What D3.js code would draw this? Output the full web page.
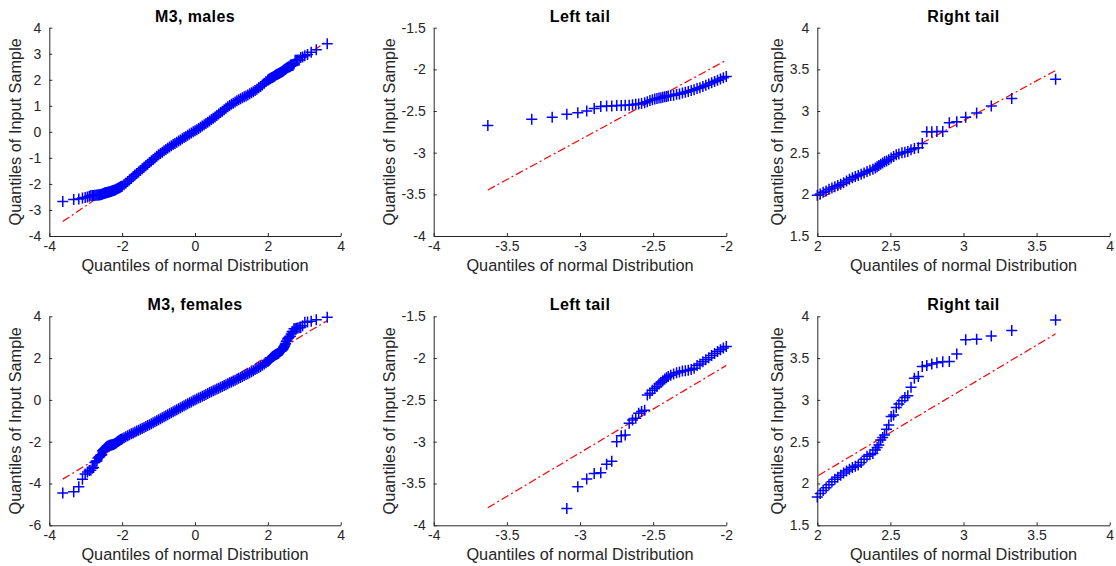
<!DOCTYPE html>
<html>
<head>
<meta charset="utf-8">
<script src="https://cdn.jsdelivr.net/npm/d3@7"></script>
<style>
  html, body { margin: 0; padding: 0; background: #fff; }
  svg { display: block; }
  text { font-family: "Liberation Sans", Arial, Helvetica, sans-serif; }
</style>
</head>
<body>
<svg id="chart" width="1116" height="566"></svg>
<script>
// Theoretical normal quantiles (shared by both samples), ascending.
const normalQuantiles = [
  -3.63,-3.33,-3.19,-3.09,-3.015,-2.954,-2.903,-2.858,-2.818,-2.783,-2.749,-2.718,-2.691,-2.664,-2.641,
  -2.619,-2.599,-2.579,-2.558,-2.540,-2.522,-2.505,-2.489,-2.474,-2.460,-2.447,-2.434,-2.421,-2.409,-2.397,
  -2.38,-2.36,-2.34,-2.32,-2.30,-2.28,-2.26,-2.24,-2.22,-2.20,-2.18,-2.16,-2.14,-2.12,-2.10,-2.08,-2.06,-2.04,-2.02,-2.00,
  -1.95,-1.90,-1.85,-1.80,-1.75,-1.70,-1.65,-1.60,-1.55,-1.50,-1.45,-1.40,-1.35,-1.30,-1.25,-1.20,-1.15,-1.10,-1.05,-1.00,
  -0.95,-0.90,-0.85,-0.80,-0.75,-0.70,-0.65,-0.60,-0.55,-0.50,-0.45,-0.40,-0.35,-0.30,-0.25,-0.20,-0.15,-0.10,-0.05,0.00,
  0.05,0.10,0.15,0.20,0.25,0.30,0.35,0.40,0.45,0.50,0.55,0.60,0.65,0.70,0.75,0.80,0.85,0.90,0.95,1.00,
  1.05,1.10,1.15,1.20,1.25,1.30,1.35,1.40,1.45,1.50,1.55,1.60,1.65,1.70,1.75,1.80,1.85,1.90,1.95,
  2.00,2.02,2.04,2.06,2.08,2.10,2.12,2.14,2.16,2.18,2.20,2.22,2.24,2.26,2.28,2.30,2.32,2.34,2.36,2.38,
  2.397,2.409,2.421,2.434,2.447,2.460,2.474,2.489,2.505,2.522,2.540,2.558,2.579,2.599,2.619,
  2.641,2.664,2.691,2.718,2.749,2.783,2.818,2.858,2.903,2.954,3.015,3.09,3.19,3.33,3.63
];

// Sorted M3 sample quantiles, males.
const malesM3 = [
  -2.675,-2.60,-2.575,-2.54,-2.52,-2.50,-2.47,-2.445,-2.44,-2.44,-2.435,-2.435,-2.43,-2.43,-2.425,
  -2.42,-2.415,-2.41,-2.40,-2.39,-2.375,-2.365,-2.355,-2.35,-2.345,-2.34,-2.335,-2.33,-2.325,-2.32,
  -2.315,-2.31,-2.30,-2.295,-2.285,-2.275,-2.265,-2.255,-2.245,-2.23,-2.22,-2.205,-2.19,-2.175,-2.16,-2.145,-2.13,-2.115,-2.10,-2.085,
  -2.03,-1.97,-1.91,-1.85,-1.79,-1.725,-1.66,-1.60,-1.54,-1.48,-1.42,-1.36,-1.30,-1.24,-1.18,-1.12,-1.06,-1.00,-0.94,-0.88,
  -0.83,-0.78,-0.73,-0.68,-0.63,-0.585,-0.535,-0.49,-0.445,-0.40,-0.355,-0.31,-0.265,-0.22,-0.175,-0.13,-0.085,-0.045,0.00,0.04,
  0.085,0.13,0.175,0.22,0.27,0.32,0.37,0.42,0.47,0.525,0.575,0.63,0.685,0.74,0.795,0.85,0.905,0.96,1.01,1.06,
  1.10,1.145,1.19,1.23,1.27,1.305,1.345,1.38,1.42,1.46,1.50,1.54,1.59,1.64,1.69,1.74,1.80,1.865,1.93,
  1.99,2.005,2.025,2.04,2.06,2.075,2.09,2.105,2.12,2.14,2.16,2.18,2.20,2.215,2.225,2.24,2.255,2.275,2.29,2.30,
  2.315,2.33,2.345,2.36,2.375,2.39,2.40,2.415,2.435,2.455,2.475,2.485,2.50,2.505,2.515,
  2.535,2.55,2.56,2.61,2.75,2.75,2.755,2.755,2.86,2.87,2.925,2.975,3.06,3.15,3.38
];

// Sorted M3 sample quantiles, females.
const femalesM3 = [
  -4.45,-4.40,-4.15,-3.80,-3.54,-3.445,-3.38,-3.37,-3.27,-3.235,-3.00,-2.93,-2.92,-2.78,-2.74,
  -2.72,-2.66,-2.64,-2.625,-2.44,-2.42,-2.385,-2.36,-2.34,-2.31,-2.29,-2.27,-2.25,-2.235,-2.22,
  -2.205,-2.19,-2.175,-2.165,-2.155,-2.15,-2.145,-2.135,-2.12,-2.09,-2.07,-2.045,-2.02,-1.995,-1.97,-1.945,-1.92,-1.90,-1.88,-1.86,
  -1.81,-1.765,-1.715,-1.67,-1.625,-1.58,-1.535,-1.49,-1.45,-1.405,-1.365,-1.32,-1.275,-1.23,-1.185,-1.14,-1.09,-1.045,-0.995,-0.95,
  -0.90,-0.855,-0.805,-0.76,-0.71,-0.665,-0.615,-0.57,-0.52,-0.475,-0.425,-0.38,-0.33,-0.285,-0.235,-0.19,-0.14,-0.095,-0.045,0.00,
  0.04,0.085,0.13,0.17,0.215,0.26,0.305,0.35,0.39,0.435,0.475,0.52,0.56,0.605,0.645,0.69,0.73,0.775,0.815,0.86,
  0.90,0.945,0.985,1.03,1.075,1.12,1.165,1.21,1.255,1.305,1.35,1.40,1.45,1.50,1.55,1.60,1.655,1.715,1.775,
  1.84,1.88,1.915,1.95,1.985,2.02,2.05,2.075,2.10,2.125,2.15,2.17,2.19,2.205,2.22,2.25,2.29,2.325,2.345,2.36,
  2.40,2.43,2.46,2.52,2.55,2.58,2.65,2.70,2.80,2.82,2.91,2.95,2.99,3.03,3.05,
  3.15,3.26,3.28,3.40,3.41,3.43,3.445,3.455,3.46,3.55,3.72,3.725,3.765,3.83,3.955
];

// Reference lines (through the quartiles), value at the lowest and highest normal quantile.
const malesRefLine = [-3.447, 3.487];
const femalesRefLine = [-3.79, 3.79];

// Axis ticks.
const fullXTicks = [-4, -2, 0, 2, 4];
const malesYTicks = [-4, -3, -2, -1, 0, 1, 2, 3, 4];
const femalesYTicks = [-6, -4, -2, 0, 2, 4];
const leftTailTicks = [-4, -3.5, -3, -2.5, -2];
const leftTailYTicks = [-4, -3.5, -3, -2.5, -2, -1.5];
const rightTailTicks = [2, 2.5, 3, 3.5, 4];
const rightTailYTicks = [1.5, 2, 2.5, 3, 3.5, 4];

const titles = ["M3, males", "Left tail", "Right tail", "M3, females", "Left tail", "Right tail"];
const xLabel = "Quantiles of normal Distribution";
const yLabel = "Quantiles of Input Sample";

const malesPts = normalQuantiles.map((q, i) => [q, malesM3[i]]);
const femalesPts = normalQuantiles.map((q, i) => [q, femalesM3[i]]);
const qMin = d3.min(normalQuantiles), qMax = d3.max(normalQuantiles);

// Layout of the 2 x 3 grid of axes.
const colX = [[49.3, 340.7], [433.7, 726.3], [817.3, 1109.7]];
const rowY = [[27.7, 236], [316.3, 525.3]];
const yLabelGap = [28, 38.7, 34];

const panels = [
  { row: 0, col: 0, pts: malesPts, ref: malesRefLine, xd: [-4, 4], yd: [-4, 4], xt: fullXTicks, yt: malesYTicks },
  { row: 0, col: 1, pts: malesPts, ref: malesRefLine, xd: [-4, -2], yd: [-4, -1.5], xt: leftTailTicks, yt: leftTailYTicks },
  { row: 0, col: 2, pts: malesPts, ref: malesRefLine, xd: [2, 4], yd: [1.5, 4], xt: rightTailTicks, yt: rightTailYTicks },
  { row: 1, col: 0, pts: femalesPts, ref: femalesRefLine, xd: [-4, 4], yd: [-6, 4], xt: fullXTicks, yt: femalesYTicks },
  { row: 1, col: 1, pts: femalesPts, ref: femalesRefLine, xd: [-4, -2], yd: [-4, -1.5], xt: leftTailTicks, yt: leftTailYTicks },
  { row: 1, col: 2, pts: femalesPts, ref: femalesRefLine, xd: [2, 4], yd: [1.5, 4], xt: rightTailTicks, yt: rightTailYTicks }
];

const svg = d3.select("#chart");
svg.append("rect").attr("width", 1116).attr("height", 566).attr("fill", "#fff");
const axisColor = "#262626";
const fmt = d => String(d);

panels.forEach((p, k) => {
  const [x0, x1] = colX[p.col];
  const [y0, y1] = rowY[p.row];
  const x = d3.scaleLinear().domain(p.xd).range([x0, x1]);
  const y = d3.scaleLinear().domain(p.yd).range([y1, y0]);
  const g = svg.append("g");

  const clipId = "clip" + k;
  svg.append("clipPath").attr("id", clipId)
    .append("rect").attr("x", x0).attr("y", y0).attr("width", x1 - x0).attr("height", y1 - y0);

  // Reference line, dash-dot red.
  const line = d3.line().x(d => x(d[0])).y(d => y(d[1]));
  g.append("path")
    .datum([[qMin, p.ref[0]], [qMax, p.ref[1]]])
    .attr("clip-path", `url(#${clipId})`)
    .attr("d", line)
    .attr("fill", "none")
    .attr("stroke", "#ff0000")
    .attr("stroke-width", 1.2)
    .attr("stroke-dasharray", "8,3,2,3");

  // Sample points: markers whose centre lies inside the axes are drawn whole.
  const eps = 1e-9;
  const visible = p.pts.filter(d => d[0] >= p.xd[0] - eps && d[0] <= p.xd[1] + eps &&
                                    d[1] >= p.yd[0] - eps && d[1] <= p.yd[1] + eps);
  g.append("g")
    .selectAll("path")
    .data(visible)
    .join("path")
    .attr("transform", d => `translate(${x(d[0])},${y(d[1])})`)
    .attr("d", "M-5.5,0H5.5M0,-5.5V5.5")
    .attr("stroke", "#0000ff")
    .attr("stroke-width", 1.5)
    .attr("fill", "none");

  // Axes with inward ticks.
  const xAxis = d3.axisBottom(x).tickValues(p.xt).tickFormat(fmt).tickSizeInner(-3).tickSizeOuter(0).tickPadding(5);
  const yAxis = d3.axisLeft(y).tickValues(p.yt).tickFormat(fmt).tickSizeInner(-3).tickSizeOuter(0).tickPadding(8);
  const gx = g.append("g").attr("transform", `translate(0,${y1})`).call(xAxis);
  const gy = g.append("g").attr("transform", `translate(${x0},0)`).call(yAxis);
  [gx, gy].forEach(a => {
    a.select(".domain").attr("stroke", axisColor).attr("stroke-width", 1);
    a.selectAll(".tick line").attr("stroke", axisColor).attr("stroke-width", 1);
    a.selectAll(".tick text").attr("fill", axisColor).attr("font-size", 14)
      .attr("font-family", "'Liberation Sans', Arial, sans-serif");
  });

  // Title and axis labels.
  g.append("text")
    .attr("x", (x0 + x1) / 2).attr("y", y0 - 6)
    .attr("text-anchor", "middle").attr("font-weight", "bold").attr("font-size", 16)
    .attr("letter-spacing", 0.4)
    .attr("fill", "#000").text(titles[k]);
  g.append("text")
    .attr("x", (x0 + x1) / 2).attr("y", y1 + 35)
    .attr("text-anchor", "middle").attr("font-size", 16.3)
    .attr("fill", axisColor).text(xLabel);
  g.append("text")
    .attr("transform", `translate(${x0 - yLabelGap[p.col]},${(y0 + y1) / 2}) rotate(-90)`)
    .attr("text-anchor", "middle").attr("font-size", 16.3)
    .attr("fill", axisColor).text(yLabel);
});
</script>
</body>
</html>
